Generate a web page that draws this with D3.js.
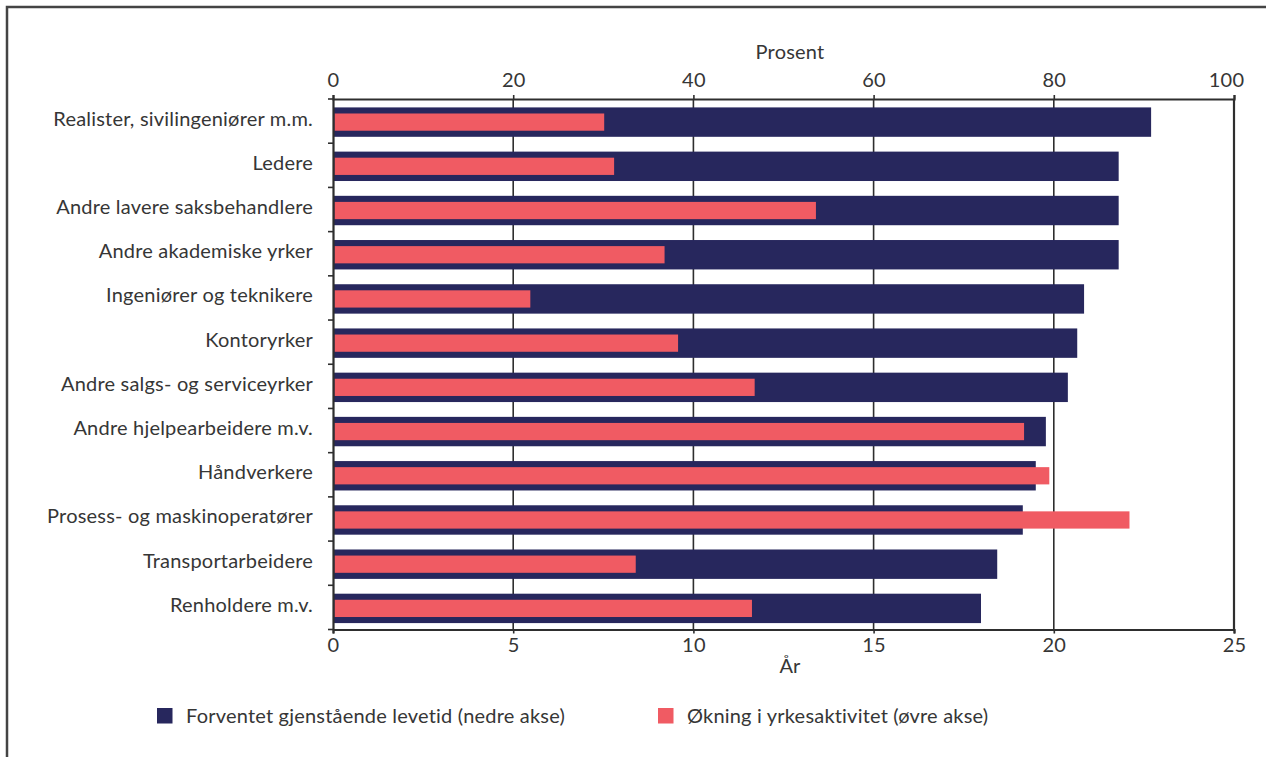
<!DOCTYPE html>
<html>
<head>
<meta charset="utf-8">
<script src="https://cdn.jsdelivr.net/npm/d3@7"></script>
<style>
  html, body { margin: 0; padding: 0; background: #fff; }
  svg text { font-family: Lato, "Open Sans", sans-serif; fill: #363636; letter-spacing: 0.2px; }
</style>
</head>
<body>
<svg id="chart" width="1266" height="757"></svg>
<script>
// ---- Data ----
const categories = [
  "Realister, sivilingeniører m.m.",
  "Ledere",
  "Andre lavere saksbehandlere",
  "Andre akademiske yrker",
  "Ingeniører og teknikere",
  "Kontoryrker",
  "Andre salgs- og serviceyrker",
  "Andre hjelpearbeidere m.v.",
  "Håndverkere",
  "Prosess- og maskinoperatører",
  "Transportarbeidere",
  "Renholdere m.v."
];
// Forventet gjenstående levetid (år, nedre akse)
const levetid = [22.7, 21.8, 21.8, 21.8, 20.84, 20.65, 20.39, 19.78, 19.5, 19.14, 18.43, 17.98];
// Økning i yrkesaktivitet (prosent, øvre akse)
const okning = [30.1, 31.2, 53.6, 36.8, 21.9, 38.3, 46.8, 76.7, 79.5, 88.4, 33.6, 46.5];
const yearTicks = [0, 5, 10, 15, 20, 25];
const pctTicks = [0, 20, 40, 60, 80, 100];
const legendLabels = ["Forventet gjenstående levetid (nedre akse)", "Økning i yrkesaktivitet (øvre akse)"];
const topTitle = "Prosent";
const bottomTitle = "År";

// ---- Layout ----
const navy = "#27275d";
const red = "#f05b63";
const axisColor = "#2e2e2e";
const textColor = "#363636";
const plotLeft = 333, plotRight = 1234, plotTop = 99, plotBottom = 629.5;

const svg = d3.select("#chart");

// outer frame
svg.append("rect")
  .attr("x", 7).attr("y", 7).attr("width", 1300).attr("height", 800)
  .attr("fill", "none").attr("stroke", "#444").attr("stroke-width", 2.5);

const xYear = d3.scaleLinear().domain([0, 25]).range([plotLeft, plotRight]);
const xPct = d3.scaleLinear().domain([0, 100]).range([plotLeft, plotRight]);
const y = d3.scaleBand().domain(categories).range([plotTop, plotBottom]).padding(0);
const step = y.bandwidth();
const navyH = step * 0.665;
const redH = step * 0.39;

// gridlines (vertical)
svg.append("g").selectAll("line")
  .data(yearTicks.slice(1, -1))
  .join("line")
  .attr("x1", d => xYear(d)).attr("x2", d => xYear(d))
  .attr("y1", plotTop).attr("y2", plotBottom)
  .attr("stroke", axisColor).attr("stroke-width", 1.6);

// navy bars
svg.append("g").selectAll("rect")
  .data(categories)
  .join("rect")
  .attr("x", xYear(0))
  .attr("y", d => y(d) + (step - navyH) / 2 + 1)
  .attr("width", (d, i) => xYear(levetid[i]) - xYear(0))
  .attr("height", navyH)
  .attr("fill", navy);

// red bars
svg.append("g").selectAll("rect")
  .data(categories)
  .join("rect")
  .attr("x", xPct(0) + 1.5)
  .attr("y", d => y(d) + (step - redH) / 2 + 1)
  .attr("width", (d, i) => xPct(okning[i]) - xPct(0) - 1.5)
  .attr("height", redH)
  .attr("fill", red);

const fontSize = 20;

// top axis
const topAxis = svg.append("g")
  .attr("transform", `translate(0,${plotTop})`)
  .call(d3.axisTop(xPct).tickValues(pctTicks).tickSize(4).tickPadding(8).tickFormat(d3.format("d")));
// bottom axis
const bottomAxis = svg.append("g")
  .attr("transform", `translate(0,${plotBottom})`)
  .call(d3.axisBottom(xYear).tickValues(yearTicks).tickSize(4).tickPadding(4).tickFormat(d3.format("d")));
// left axis
const leftAxis = svg.append("g")
  .attr("transform", `translate(${plotLeft},0)`)
  .call(d3.axisLeft(y).tickSize(0).tickPadding(20));

[topAxis, bottomAxis].forEach(g => {
  g.select(".domain").attr("stroke", axisColor).attr("stroke-width", 2.2);
  g.selectAll(".tick line").attr("stroke", axisColor).attr("stroke-width", 1.6);
  g.selectAll(".tick text").attr("font-size", fontSize).attr("fill", textColor)
    .style("font-family", "Lato, 'Open Sans', sans-serif");
});
topAxis.selectAll(".tick text").filter(d => d === 100).attr("dx", -8);
leftAxis.select(".domain").attr("stroke", axisColor).attr("stroke-width", 2.2);
leftAxis.selectAll(".tick text").attr("font-size", fontSize).attr("fill", textColor)
  .attr("dy", "0.22em")
  .style("font-family", "Lato, 'Open Sans', sans-serif");

// left ticks at band boundaries
svg.append("g").selectAll("line")
  .data(d3.range(categories.length + 1))
  .join("line")
  .attr("x1", plotLeft - 5).attr("x2", plotLeft)
  .attr("y1", i => plotTop + i * step).attr("y2", i => plotTop + i * step)
  .attr("stroke", axisColor).attr("stroke-width", 1.6);

// right border
svg.append("line")
  .attr("x1", plotRight).attr("x2", plotRight).attr("y1", plotTop).attr("y2", plotBottom)
  .attr("stroke", axisColor).attr("stroke-width", 2.2);

// axis titles
svg.append("text").attr("x", 790).attr("y", 59)
  .attr("text-anchor", "middle").attr("font-size", fontSize).text(topTitle);
svg.append("text").attr("x", 790).attr("y", 673)
  .attr("text-anchor", "middle").attr("font-size", fontSize).text(bottomTitle);

// legend
const legendX = [157, 658];
const lg = svg.append("g");
lg.selectAll("rect")
  .data(legendLabels)
  .join("rect")
  .attr("x", (d, i) => legendX[i]).attr("y", 708)
  .attr("width", 15.5).attr("height", 15.5)
  .attr("fill", (d, i) => i === 0 ? navy : red);
lg.selectAll("text")
  .data(legendLabels)
  .join("text")
  .attr("x", (d, i) => legendX[i] + 29).attr("y", 723)
  .attr("font-size", fontSize)
  .text(d => d);
</script>
</body>
</html>
